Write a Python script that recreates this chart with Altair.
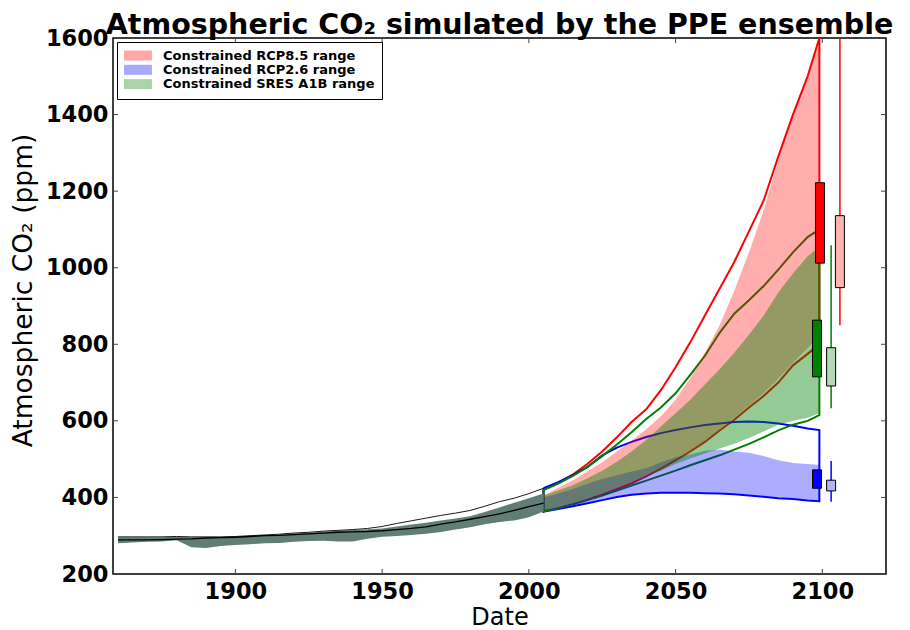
import altair as alt
import pandas as pd

# ---------------- data ----------------
X_TICKS = [1900, 1950, 2000, 2050, 2100]
Y_TICKS = [200, 400, 600, 800, 1000, 1200, 1400, 1600]

HIST_YEARS = list(range(1860, 2006, 5))
HIST_LO = [280, 282, 284, 285, 288, 270, 268, 273, 276, 278, 280, 281, 284, 286, 287,
           285, 285, 292, 297, 299, 302, 305, 310, 316, 322, 330, 336, 340, 348, 363]
HIST_HI = [296, 296, 296, 296, 297, 296, 296, 296, 297, 299, 301, 303, 306, 308, 311,
           313, 315, 317, 319, 324, 329, 334, 340, 345, 351, 362, 374, 386, 398, 410]
HIST_TOP = [297, 297, 297, 297, 298, 297, 297, 297, 298, 300, 302, 304, 307, 309, 312,
            314, 316, 319, 324, 332, 339, 346, 353, 359, 366, 377, 389, 398, 410, 424]
HIST_OBS = [289, 289, 289, 290, 291, 292, 294, 295, 296, 298, 300, 301, 303, 305, 307,
            309, 310, 311, 313, 316, 319, 323, 330, 336, 343, 350, 357, 366, 376, 385]

FUT_YEARS = list(range(2005, 2096, 5)) + [2099]

# unconstrained outlines
RCP85_OUT_HI = [421, 438, 460, 488, 520, 557, 597, 630, 680, 740, 805, 875, 945, 1015, 1095, 1175, 1290, 1400, 1500, 1600]
RCP85_OUT_LO = [363, 372, 382, 395, 408, 422, 437, 455, 475, 497, 520, 545, 575, 603, 635, 665, 700, 745, 775, 800]
RCP26_OUT_HI = [424, 440, 458, 480, 510, 530, 545, 558, 568, 576, 583, 589, 593, 597, 598, 597, 593, 587, 580, 576]
RCP26_OUT_LO = [363, 370, 377, 385, 393, 401, 407, 410, 412, 412, 412, 411, 410, 408, 405, 402, 398, 396, 392, 390]
A1B_OUT_HI = [419, 436, 456, 480, 508, 538, 570, 605, 635, 672, 720, 770, 830, 880, 915, 952, 995, 1040, 1080, 1100]
A1B_OUT_LO = [363, 372, 382, 393, 405, 418, 431, 444, 457, 470, 484, 497, 510, 525, 540, 557, 575, 590, 600, 615]

# constrained ranges (filled)
RCP85_HI = [405, 425, 445, 468, 492, 520, 548, 578, 612, 655, 712, 778, 850, 940, 1040, 1150, 1280, 1400, 1500, 1590]
RCP85_LO = [365, 374, 385, 397, 410, 424, 440, 457, 477, 499, 522, 548, 578, 608, 640, 672, 710, 752, 790, 822]
RCP26_HI = [400, 410, 422, 436, 448, 458, 468, 476, 492, 505, 512, 522, 525, 520, 517, 508, 497, 490, 487, 485]
RCP26_LO = [365, 372, 379, 387, 395, 403, 409, 412, 414, 414, 414, 413, 412, 410, 407, 404, 400, 398, 394, 392]
A1B_HI = [405, 418, 432, 450, 470, 493, 520, 550, 585, 620, 655, 695, 735, 778, 825, 875, 935, 985, 1030, 1055]
A1B_LO = [365, 375, 386, 398, 411, 425, 440, 455, 470, 487, 502, 515, 528, 540, 555, 572, 590, 600, 608, 620]

LEGEND_LABELS = ["Constrained RCP8.5 range", "Constrained RCP2.6 range", "Constrained SRES A1B range"]

# 2100 box summaries: order RCP8.5, SRES A1B, RCP2.6
DARK_POS = [2099.2, 2098.2, 2098.2]
DARK_LO = [1012, 715, 424]
DARK_HI = [1222, 863, 472]
LIGHT_POS = [2106, 2103, 2103]
LIGHT_LO = [948, 691, 417]
LIGHT_HI = [1136, 791, 445]
LIGHT_WLO = [850, 633, 389]
LIGHT_WHI = [1600, 1059, 495]

# ---------------- styles ----------------
FONT = "DejaVu Sans"
W, H = 773, 536
RED, BLUE, GREEN = "#ff0000", "#0000ff", "#008000"
BASE_COLORS = [RED, BLUE, GREEN]
FILL_ALPHA = [0.32, 0.32, 0.42]
DARK_COLORS = [RED, GREEN, BLUE]
LIGHT_COLORS = ["#ffb3b3", "#b3d9b3", "#b3b3ff"]
WHISK_COLORS = [RED, GREEN, BLUE]

XS = alt.Scale(domain=[1860, 2120], nice=False, zero=False)
YS = alt.Scale(domain=[200, 1600], nice=False, zero=False)
XAX = alt.Axis(values=X_TICKS, format="d", title="Date", labelPadding=6, titlePadding=3,
               titleFontSize=24)
YAX = alt.Axis(values=Y_TICKS, format="d", title="Atmospheric CO₂ (ppm)", labelPadding=5,
               titlePadding=8, titleFontSize=26.5, titleY=252)


def X(f):
    return alt.X(f"{f}:Q", scale=XS, axis=XAX)


def Y(f):
    return alt.Y(f"{f}:Q", scale=YS, axis=YAX)


COLOR_SCALE = alt.Scale(domain=LEGEND_LABELS, range=BASE_COLORS)
LEGEND = alt.Legend(
    title=None, orient="top-left", offset=4, padding=7,
    symbolType="M-1,-0.77H3.3V0.77H-1Z", symbolSize=169,
    symbolOpacity=0.34, symbolStrokeWidth=0,
    labelFont=FONT, labelFontWeight="bold", labelFontSize=13, labelLimit=400,
    labelColor="black", rowPadding=0.3, strokeColor="black",
    fillColor="white", labelOffset=26)

# ---------------- frames ----------------
hist = pd.DataFrame({"year": HIST_YEARS, "lo": HIST_LO, "hi": HIST_HI,
                     "top": HIST_TOP, "obs": HIST_OBS})


def outline_df(hi, lo):
    yrs = FUT_YEARS + FUT_YEARS[::-1] + [FUT_YEARS[0]]
    vals = hi + lo[::-1] + [hi[0]]
    return pd.DataFrame({"year": yrs, "val": vals, "idx": list(range(len(yrs)))})


layers = []

# outlines (drawn first, beneath fills)
for (hi, lo), col in [((RCP85_OUT_HI, RCP85_OUT_LO), RED),
                      ((RCP26_OUT_HI, RCP26_OUT_LO), BLUE),
                      ((A1B_OUT_HI, A1B_OUT_LO), GREEN)]:
    layers.append(
        alt.Chart(outline_df(hi, lo)).mark_line(color=col, strokeWidth=2, strokeJoin="miter")
        .encode(x=X("year"), y=Y("val"), order="idx:Q")
    )

# constrained fills (one layer each, in drawing order), sharing one legend
for i, (lab, lo, hi) in enumerate([(LEGEND_LABELS[0], RCP85_LO, RCP85_HI),
                                   (LEGEND_LABELS[1], RCP26_LO, RCP26_HI),
                                   (LEGEND_LABELS[2], A1B_LO, A1B_HI)]):
    d = pd.DataFrame({"cat": lab, "year": FUT_YEARS, "lo": lo, "hi": hi})
    layers.append(
        alt.Chart(d).mark_area(strokeWidth=0, opacity=FILL_ALPHA[i]).encode(
            x=X("year"), y=Y("lo"), y2="hi",
            color=alt.Color("cat:N", scale=COLOR_SCALE, legend=LEGEND),
        )
    )

# historical band and lines
layers.append(alt.Chart(hist).mark_area(color="#607d76", opacity=1).encode(x=X("year"), y=Y("lo"), y2="hi"))
layers.append(alt.Chart(hist).mark_line(color="#1a1a1a", strokeWidth=1).encode(x=X("year"), y=Y("top")))
layers.append(alt.Chart(hist).mark_line(color="black", strokeWidth=1.3).encode(x=X("year"), y=Y("obs")))

# 2100 boxes
for i in range(3):
    d = pd.DataFrame({"pos": [DARK_POS[i]], "lo": [DARK_LO[i]], "hi": [DARK_HI[i]]})
    layers.append(alt.Chart(d).mark_bar(size=9, color=DARK_COLORS[i], stroke="black", strokeWidth=1, opacity=1)
                  .encode(x=X("pos"), y=Y("lo"), y2="hi"))
for i in range(3):
    d = pd.DataFrame({"pos": [LIGHT_POS[i]], "lo": [LIGHT_LO[i]], "hi": [LIGHT_HI[i]],
                      "wlo": [LIGHT_WLO[i]], "whi": [LIGHT_WHI[i]]})
    layers.append(alt.Chart(d).mark_rule(color=WHISK_COLORS[i], strokeWidth=1.5)
                  .encode(x=X("pos"), y=Y("wlo"), y2="whi"))
    layers.append(alt.Chart(d).mark_bar(size=9, color=LIGHT_COLORS[i], stroke="black", strokeWidth=1, opacity=1)
                  .encode(x=X("pos"), y=Y("lo"), y2="hi"))

# inward ticks on all four sides
yt = pd.DataFrame({"v": Y_TICKS})
xt = pd.DataFrame({"v": X_TICKS})
tick_style = dict(color="#444444", strokeWidth=1)
layers.append(alt.Chart(yt).mark_rule(**tick_style).encode(y=Y("v"), x=alt.value(0), x2=alt.value(5)))
layers.append(alt.Chart(yt).mark_rule(**tick_style).encode(y=Y("v"), x=alt.value(W - 5), x2=alt.value(W)))
layers.append(alt.Chart(xt).mark_rule(**tick_style).encode(x=X("v"), y=alt.value(H - 5), y2=alt.value(H)))
layers.append(alt.Chart(xt).mark_rule(**tick_style).encode(x=X("v"), y=alt.value(0), y2=alt.value(5)))

chart = alt.layer(*layers).properties(
    width=W, height=H,
    autosize=alt.AutoSizeParams(type="none"),
    padding={"left": 113, "top": 38, "right": 24, "bottom": 56},
    title=alt.TitleParams(text="Atmospheric CO₂ simulated by the PPE ensemble",
                          font=FONT, fontSize=28.5, fontWeight="bold", color="black",
                          anchor="middle", offset=5, dy=17),
).configure_view(
    stroke="black", strokeWidth=1.5
).configure_axis(
    labelFont=FONT, labelFontSize=22.5, labelFontWeight="bold", labelColor="black",
    titleFont=FONT, titleFontWeight="normal", titleColor="black",
    ticks=False, domain=False, grid=False
)

chart.save("out.html", embed_options={"renderer": "svg", "actions": False})
